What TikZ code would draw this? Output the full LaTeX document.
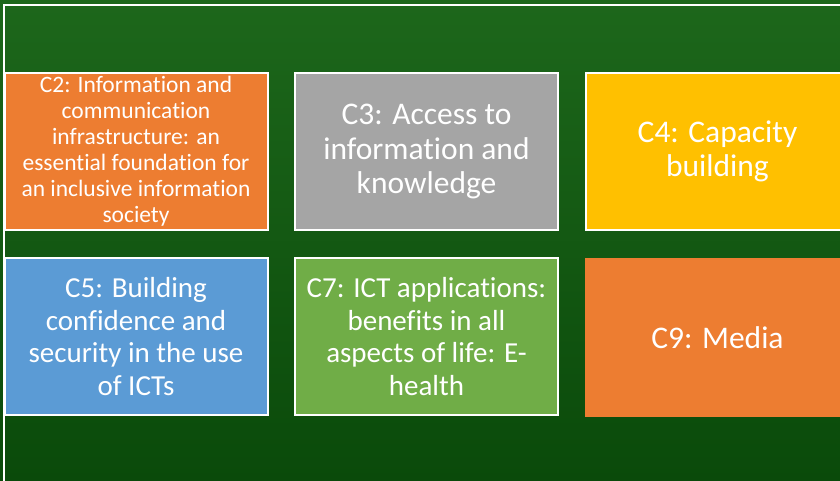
\documentclass[tikz,border=0pt]{standalone}
\usepackage{fontspec}
\setmainfont[Ligatures={NoCommon}]{Carlito}
\definecolor{bgtop}{HTML}{1D671B}
\definecolor{bgbot}{HTML}{0A4A0A}
\definecolor{corange}{HTML}{ED7D31}
\definecolor{cgray}{HTML}{A5A5A5}
\definecolor{cgold}{HTML}{FFC000}
\definecolor{cblue}{HTML}{5B9BD5}
\definecolor{cgreen}{HTML}{70AD47}
\tikzset{
  tile/.style={draw=white, line width=2pt, text=white, align=center,
    minimum width=263pt, minimum height=157pt, inner sep=0pt, font=\fontsize{31.5}{34.5}\selectfont},
  tilesmall/.style={tile, font=\fontsize{23.5}{26}\selectfont},
  tilemid/.style={tile, font=\fontsize{29}{32.5}\selectfont},
  tilenb/.style={tile, draw=none, minimum width=265pt, minimum height=159pt}
}
\begin{document}
\begin{tikzpicture}[x=1pt,y=-1pt]
\useasboundingbox (0,0) rectangle (840,481);
\clip (0,0) rectangle (840,481);
\shade[top color=bgtop, bottom color=bgbot] (0,0) rectangle (840,481);
\draw[white, line width=1.5pt] (4,5) rectangle (900,540);
\node[tilesmall, fill=corange] (c2) at (136,151.5) {C2: Information and\\communication\\infrastructure: an\\essential foundation for\\an inclusive information\\society};
\node[tile, fill=cgray] (c3) at (426.5,151.5) {C3: Access to\\information and\\knowledge};
\node[tile, fill=cgold] (c4) at (717.5,151.5) {C4: Capacity\\building};
\node[tilemid, fill=cblue] (c5) at (136,336.5) {C5: Building\\confidence and\\security in the use\\of ICTs};
\node[tilemid, fill=cgreen] (c7) at (426.5,336.5) {C7: ICT applications:\\benefits in all\\aspects of life: E-\\health};
\node[tilenb, fill=corange] (c9) at (717.5,337.5) {C9: Media};
\end{tikzpicture}
\end{document}
